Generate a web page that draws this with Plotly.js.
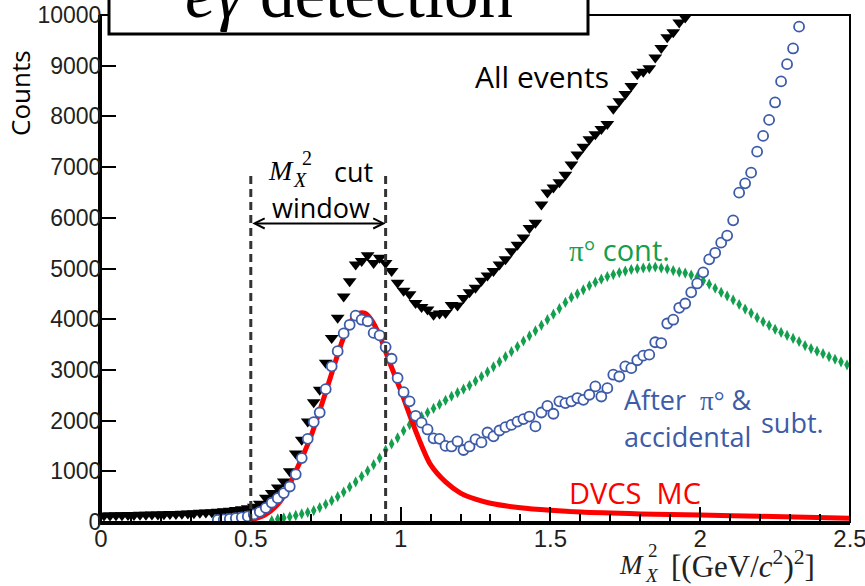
<!DOCTYPE html>
<html>
<head>
<meta charset="utf-8">
<script src="https://cdn.plot.ly/plotly-3.0.1.min.js"></script>
<style>
  html, body { margin: 0; padding: 0; background: #fff; }
  #chart { width: 865px; height: 586px; }
</style>
</head>
<body>
<div id="chart"></div>
<script>
// Missing-mass squared spectrum, bins of 0.02 (GeV/c^2)^2

// All events (black triangles)
const allX = [
  0.01,0.03,0.05,0.07,0.09,0.11,0.13,0.15,0.17,0.19,
  0.21,0.23,0.25,0.27,0.29,0.31,0.33,0.35,0.37,0.39,
  0.41,0.43,0.45,0.47,0.49,0.51,0.53,0.55,0.57,0.59,
  0.61,0.63,0.65,0.67,0.69,0.71,0.73,0.75,0.77,0.79,
  0.81,0.83,0.85,0.87,0.89,0.91,0.93,0.95,0.97,0.99,
  1.01,1.03,1.05,1.07,1.09,1.11,1.13,1.15,1.17,1.19,
  1.21,1.23,1.25,1.27,1.29,1.31,1.33,1.35,1.37,1.39,
  1.41,1.43,1.45,1.47,1.49,1.51,1.53,1.55,1.57,1.59,
  1.61,1.63,1.65,1.67,1.69,1.71,1.73,1.75,1.77,1.79,
  1.81,1.83,1.85,1.87,1.89,1.91,1.93,1.95,1.97
];
const allCounts = [
  130,130,135,135,140,140,145,145,150,150,
  155,160,160,165,170,175,180,185,190,200,
  210,220,235,250,270,300,360,480,570,680,
  800,1000,1350,1620,1980,2360,2610,3140,3630,4030,
  4450,4750,5080,5150,5260,5110,5210,5110,4950,4720,
  4560,4490,4320,4240,4190,4090,4110,4120,4280,4270,
  4420,4530,4620,4760,4860,4950,5080,5180,5340,5470,
  5610,5800,5900,6260,6500,6600,6700,6850,7050,7250,
  7400,7550,7650,7750,7850,8150,8300,8440,8600,8830,
  8880,8950,9160,9350,9560,9660,9850,9950,10150
];

// After pi0 & accidental subtraction (blue open circles)
const subX = [
  0.39,0.41,0.43,0.45,0.47,0.49,0.51,0.53,0.55,0.57,
  0.59,0.61,0.63,0.65,0.67,0.69,0.71,0.73,0.75,0.77,
  0.79,0.81,0.83,0.85,0.87,0.89,0.91,0.93,0.95,0.97,
  0.99,1.01,1.03,1.05,1.07,1.09,1.11,1.13,1.15,1.17,
  1.19,1.21,1.23,1.25,1.27,1.29,1.31,1.33,1.35,1.37,
  1.39,1.41,1.43,1.45,1.47,1.49,1.51,1.53,1.55,1.57,
  1.59,1.61,1.63,1.65,1.67,1.69,1.71,1.73,1.75,1.77,
  1.79,1.81,1.83,1.85,1.87,1.89,1.91,1.93,1.95,1.97,
  1.99,2.01,2.03,2.05,2.07,2.09,2.11,2.13,2.15,2.17,
  2.19,2.21,2.23,2.25,2.27,2.29,2.31,2.33
];
const subCounts = [
  40,50,60,75,90,110,150,200,280,380,
  470,570,700,940,1260,1640,1970,2160,2620,3070,
  3370,3720,3890,4070,3990,3960,3730,3680,3450,3220,
  2840,2560,2380,2095,1960,1825,1650,1640,1500,1490,
  1590,1420,1490,1630,1570,1765,1690,1805,1870,1915,
  1980,2030,2080,1885,2160,2290,2135,2380,2345,2380,
  2445,2410,2510,2675,2475,2640,2905,2870,3070,3035,
  3190,3280,3300,3545,3530,3915,3990,4225,4310,4530,
  4705,4925,5180,5310,5510,5650,5950,6495,6680,6890,
  7305,7615,7930,8275,8690,9030,9340,9770
];

// pi0 contamination (green diamonds)
const pi0X = [
  0.57,0.59,0.61,0.63,0.65,0.67,0.69,0.71,0.73,0.75,
  0.77,0.79,0.81,0.83,0.85,0.87,0.89,0.91,0.93,0.95,
  0.97,0.99,1.01,1.03,1.05,1.07,1.09,1.11,1.13,1.15,
  1.17,1.19,1.21,1.23,1.25,1.27,1.29,1.31,1.33,1.35,
  1.37,1.39,1.41,1.43,1.45,1.47,1.49,1.51,1.53,1.55,
  1.57,1.59,1.61,1.63,1.65,1.67,1.69,1.71,1.73,1.75,
  1.77,1.79,1.81,1.83,1.85,1.87,1.89,1.91,1.93,1.95,
  1.97,1.99,2.01,2.03,2.05,2.07,2.09,2.11,2.13,2.15,
  2.17,2.19,2.21,2.23,2.25,2.27,2.29,2.31,2.33,2.35,
  2.37,2.39,2.41,2.43,2.45,2.47,2.49
];
const pi0Counts = [
  30,60,80,100,130,160,190,225,285,350,
  420,500,590,690,790,900,1010,1130,1260,1420,
  1540,1660,1800,1920,2000,2080,2160,2240,2320,2400,
  2480,2550,2620,2690,2780,2870,2960,3060,3160,3260,
  3360,3460,3570,3670,3770,3880,3990,4100,4210,4330,
  4430,4500,4580,4660,4730,4790,4840,4880,4920,4950,
  4980,4995,5010,5020,5030,5010,4990,4960,4930,4910,
  4870,4830,4760,4690,4610,4530,4460,4380,4290,4200,
  4120,4030,3950,3880,3800,3740,3680,3620,3560,3480,
  3420,3370,3320,3260,3210,3160,3100
];

// DVCS Monte Carlo (red curve)
const mcX = [0.50,0.55,0.60,0.65,0.70,0.75,0.80,0.83,0.86,0.88,0.90,0.93,0.96,1.00,
             1.05,1.10,1.15,1.20,1.25,1.30,1.40,1.50,1.60,1.80,2.00,2.20,2.50];
const mcCounts = [40,150,420,1000,1680,2560,3480,3920,4110,4120,4010,3680,3200,2600,
                  1800,1130,790,570,450,370,280,230,195,160,138,112,72];

// M_X^2 cut window edges
const cutLow = 0.5;
const cutHigh = 0.95;
const cutMarkTop = 6900;
const cutArrowLevel = 5890;

const GREEN = '#12a04e';
const BLUE = '#3d5ba8';
const RED = '#ff0000';
const SANS = 'Open Sans, sans-serif';
const SERIF = 'Liberation Serif, serif';

// frame geometry (pixels) used to place free-standing text
const M = { l: 101, r: 15, t: 15, b: 64 };
const W = 865, H = 586;
const plotW = W - M.l - M.r, plotH = H - M.t - M.b;
function px(x) { return (x - M.l) / plotW; }
function py(y) { return (H - M.b - y) / plotH; }

const traces = [
  { x: pi0X, y: pi0Counts, type: 'scatter', mode: 'markers',
    marker: { symbol: 'diamond-tall', size: 8, color: GREEN } },
  { x: allX, y: allCounts, type: 'scatter', mode: 'markers',
    marker: { symbol: 'triangle-down', size: 12, color: '#000' } },
  { x: mcX, y: mcCounts, type: 'scatter', mode: 'lines',
    line: { color: RED, width: 5, shape: 'spline', smoothing: 0.8 } },
  { x: subX, y: subCounts, type: 'scatter', mode: 'markers',
    marker: { symbol: 'circle', size: 10, color: '#fff', line: { color: BLUE, width: 1.8 } } }
];

function label(text, x, y, color, size, anchor) {
  return { text: text, x: x, y: y, xref: 'x', yref: 'y', showarrow: false,
           xanchor: anchor || 'center', yanchor: 'middle',
           font: { family: SANS, size: size, color: color } };
}
function freeText(text, x, y, family, size, anchor, color) {
  return { text: text, x: px(x), y: py(y), xref: 'paper', yref: 'paper', showarrow: false,
           xanchor: anchor || 'center', yanchor: 'middle',
           font: { family: family, size: size, color: color || '#000' } };
}

const layout = {
  width: W, height: H,
  margin: { l: M.l, r: M.r, t: M.t, b: M.b, pad: 0 },
  paper_bgcolor: '#fff', plot_bgcolor: '#fff',
  showlegend: false,
  xaxis: {
    range: [0, 2.5], tick0: 0, dtick: 0.5,
    showline: true, linewidth: 3, linecolor: '#000',
    ticks: 'inside', ticklen: 15, tickwidth: 2, tickcolor: '#000',
    minor: { dtick: 0.1, ticks: 'inside', ticklen: 8, tickwidth: 2, tickcolor: '#000' },
    showgrid: false, zeroline: false, ticklabelstandoff: -7,
    ticklabeloverflow: 'allow',
    tickfont: { family: 'Liberation Sans, Arial, sans-serif', size: 24, color: '#231f20' }
  },
  yaxis: {
    range: [0, 10000], tick0: 0, dtick: 1000, tickformat: 'd',
    showline: true, linewidth: 3, linecolor: '#000',
    ticks: 'inside', ticklen: 15, tickwidth: 2, tickcolor: '#000',
    showgrid: false, zeroline: false, ticklabelstandoff: -8,
    ticklabeloverflow: 'allow',
    tickfont: { family: 'Liberation Sans, Arial, sans-serif', size: 23, color: '#231f20' }
  },
  shapes: [
    // plot frame
    { type: 'rect', xref: 'paper', yref: 'paper', x0: 0, x1: 1, y0: 0, y1: 1,
      line: { color: '#000', width: 2 } },
    // cut window edges
    { type: 'line', xref: 'x', yref: 'y', x0: cutLow, x1: cutLow, y0: 0, y1: cutMarkTop,
      line: { color: '#333', width: 3, dash: '8px,5px' } },
    { type: 'line', xref: 'x', yref: 'y', x0: cutHigh, x1: cutHigh, y0: 0, y1: cutMarkTop,
      line: { color: '#333', width: 3, dash: '8px,5px' } },
    // title box
    { type: 'rect', xref: 'paper', yref: 'paper', x0: px(109), x1: px(588), y0: py(34), y1: 1.2,
      fillcolor: '#fff', line: { color: '#000', width: 3 } }
  ],
  annotations: [
    freeText('<i>eγ</i> detection', 349, -6, SERIF, 69),
    { text: 'Counts', xref: 'paper', yref: 'paper', x: px(20), y: py(93), textangle: -90,
      xanchor: 'center', yanchor: 'middle', showarrow: false,
      font: { family: SANS, size: 26, color: '#000' } },
    // x-axis title: M_X^2 [(GeV/c^2)^2]
    freeText('<i>M</i>', 631, 565, SERIF, 27, 'center', '#222'),
    freeText('<i>X</i>', 652, 575, SERIF, 19, 'center', '#222'),
    freeText('2', 653, 550, SERIF, 19, 'center', '#222'),
    freeText('[(GeV/<i>c</i><sup>2</sup>)<sup>2</sup>]', 669, 564, SERIF, 31, 'left', '#222'),
    // series labels
    label('All events', 1.472, 8794, '#000', 30),
    label('<span style="font-family:Liberation Serif">π°</span> cont.', 1.732, 5375, GREEN, 29),
    label('After\u00a0 <span style="font-family:Liberation Serif">π°</span> &', 1.739, 2411, BLUE, 27, 'left'),
    label('accidental', 1.739, 1680, BLUE, 27, 'left'),
    label('subt.', 2.196, 1957, BLUE, 27, 'left'),
    label('DVCS\u00a0 MC', 1.555, 573, RED, 29, 'left'),
    // cut window label: M_X^2 cut / window
    freeText('<i>M</i>', 281, 170, SERIF, 28),
    freeText('<i>X</i>', 300, 180, SERIF, 20),
    freeText('2', 307, 158, SERIF, 20),
    freeText('cut', 332, 171, SANS, 27, 'left'),
    freeText('window', 321, 207, SANS, 27),
    { text: '', xref: 'x', yref: 'y', x: cutHigh, y: cutArrowLevel,
      axref: 'x', ayref: 'y', ax: cutLow, ay: cutArrowLevel,
      showarrow: true, arrowhead: 5, startarrowhead: 5, arrowside: 'end+start',
      arrowsize: 1, startarrowsize: 1, arrowwidth: 2, arrowcolor: '#000',
      standoff: 0, startstandoff: 0 }
  ]
};

Plotly.newPlot('chart', traces, layout, { displayModeBar: false, staticPlot: true });
</script>
</body>
</html>
